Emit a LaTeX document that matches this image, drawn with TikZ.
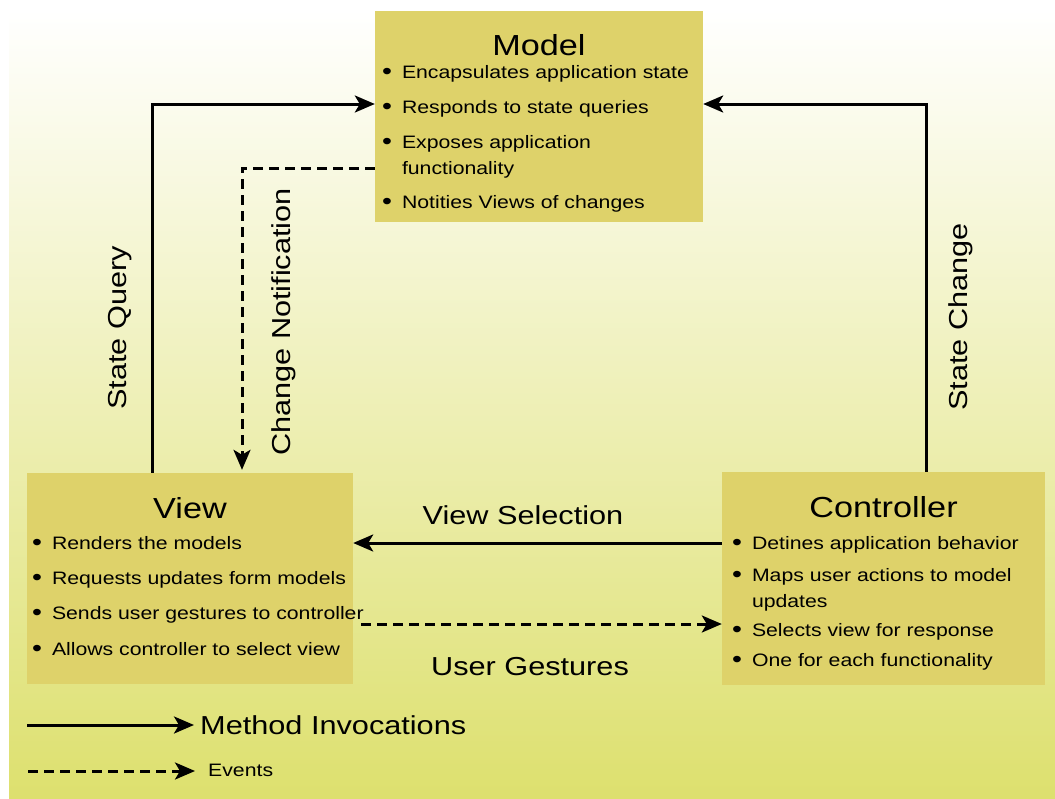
\documentclass[tikz,border=0pt]{standalone}
\usepackage{fontspec}
\setmainfont[FakeStretch=1.18]{Liberation Sans}
\usetikzlibrary{positioning,arrows.meta}
\definecolor{boxfill}{RGB}{222,210,106}
\definecolor{bgbottom}{RGB}{221,224,110}
\newcommand{\bul}{\makebox[20pt][l]{\raisebox{-1pt}{\fontsize{24}{24}\selectfont\textbullet}}}
\newcommand{\bulskip}{\hspace*{20pt}}

\begin{document}
\begin{tikzpicture}[x=1pt, y=-1pt,
    mvcbox/.style={fill=boxfill, inner sep=0pt},
    boxtitle/.style={font=\fontsize{29}{32}\selectfont, inner sep=0pt},
    bullets/.style={align=left, inner sep=0pt, font=\fontsize{18}{26}\selectfont},
    lbl/.style={font=\fontsize{26}{28}\selectfont, inner sep=2pt},
    invoke/.style={line width=3pt, -{Stealth[length=20pt,width=17pt,inset=5pt]}},
    event/.style={invoke, dash pattern=on 10pt off 6pt}]
    \useasboundingbox (0,0) rectangle (1055,798);
    \fill[top color=white, bottom color=bgbottom] (9,10) rectangle (1055,798);

    % the three boxes
    \node[mvcbox, minimum width=328pt, minimum height=211pt] (model) at (539,116.5) {};
    \node[mvcbox, minimum width=326pt, minimum height=211pt] (view) at (190,578.5) {};
    \node[mvcbox, minimum width=323pt, minimum height=213pt] (controller) at (883.5,578.5) {};

    % Model
    \node[boxtitle, below=23pt of model.north] (modeltitle) {Model};
    \node[bullets, below right=54pt and 7pt of model.north west] (modellist)
        {\bul Encapsulates application state\\[9pt]
         \bul Responds to state queries\\[9pt]
         \bul Exposes application\\
         \bulskip functionality\\[8pt]
         \bul Notities Views of changes};

    % View
    \node[boxtitle, below=24pt of view.north] (viewtitle) {View};
    \node[bullets, below right=63pt and 5pt of view.north west] (viewlist)
        {\bul Renders the models\\[9pt]
         \bul Requests updates form models\\[9pt]
         \bul Sends user gestures to controller\\[10pt]
         \bul Allows controller to select view};

    % Controller
    \node[boxtitle, below=24pt of controller.north] (controllertitle) {Controller};
    \node[bullets, below right=64pt and 10pt of controller.north west] (controllerlist)
        {\bul Detines application behavior\\[6pt]
         \bul Maps user actions to model\\
         \bulskip updates\\[3pt]
         \bul Selects view for response\\[4pt]
         \bul One for each functionality};

    % connectors
    \coordinate (sq) at (152,104);
    \coordinate (sc) at (926,104);
    \coordinate (cn) at (242,168);
    \coordinate (vs) at (0,543);
    \coordinate (ug) at (0,624);
    \draw[invoke] (view.north -| sq) |- (model.west |- sq);
    \draw[invoke] (controller.north -| sc) |- (model.east |- sc);
    \draw[event, shorten >=3pt] (model.west |- cn) -| (view.north -| cn);
    \draw[invoke] (controller.west |- vs) -- (view.east |- vs);
    \draw[event] ([xshift=8pt]view.east |- ug) -- (controller.west |- ug);

    \node[lbl, rotate=90] (sqlabel) at (120,328) {State Query};
    \node[lbl, rotate=90] (cnlabel) at (284,322) {Change Notification};
    \node[lbl, rotate=90] (sclabel) at (961,317) {State Change};
    \node[lbl] (vslabel) at (523,515) {View Selection};
    \node[lbl] (uglabel) at (530,667) {User Gestures};

    % legend
    \node[lbl, anchor=west] (legmethod) at (198,725) {Method Invocations};
    \node[font=\fontsize{18}{20}\selectfont, inner sep=2pt, anchor=west] (legevent) at (206,770) {Events};
    \coordinate (legmethodstart) at (27,725);
    \coordinate (legeventstart) at (28,771);
    \draw[invoke, shorten >=4pt] (legmethodstart) -- (legmethod.west);
    \draw[event, shorten >=11pt] (legeventstart) -- (legevent.west |- legeventstart);
\end{tikzpicture}
\end{document}
